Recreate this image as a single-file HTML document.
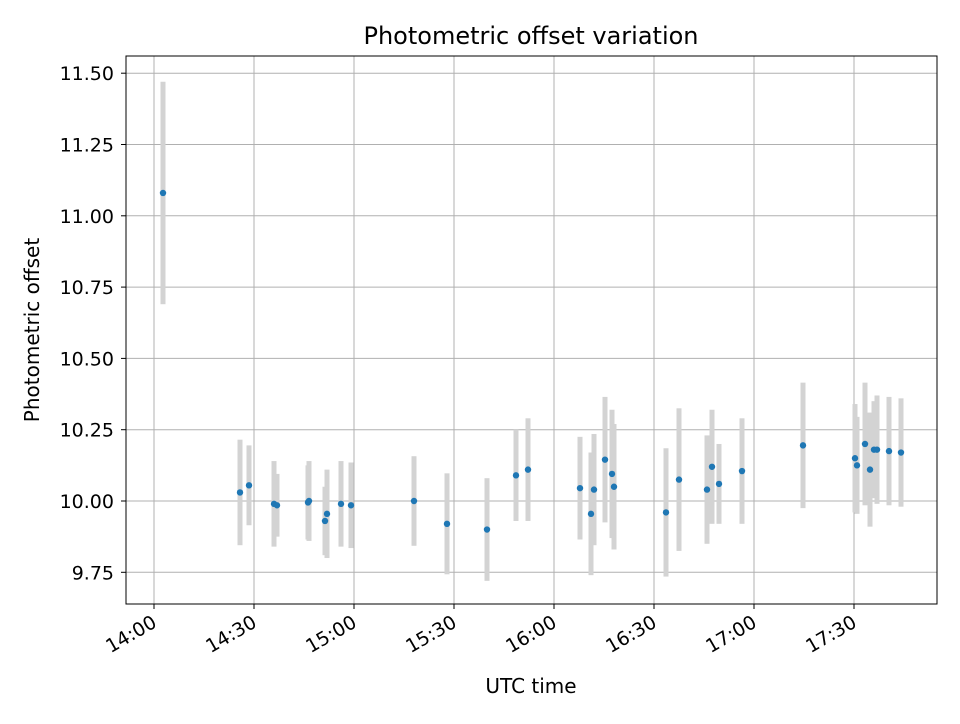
<!DOCTYPE html>
<html><head><meta charset="utf-8"><style>
body{margin:0;background:#fff;font-family:"DejaVu Sans","Liberation Sans",sans-serif;}
svg text{font-family:"DejaVu Sans","Liberation Sans",sans-serif;}
</style></head><body>
<svg id="chart" width="960" height="720" xmlns="http://www.w3.org/2000/svg">
<rect width="960" height="720" fill="#fff"/>
<g id="grid"></g><g id="bars"></g><g id="dots"></g><g id="ticks"></g>
<rect x="126" y="56" width="811" height="548" fill="none" stroke="#000" stroke-width="1"/>
<text x="531" y="44" text-anchor="middle" style="font-size:24px">Photometric offset variation</text>
<text x="531" y="693" text-anchor="middle" style="font-size:20px">UTC time</text>
<text transform="translate(39,330) rotate(-90)" text-anchor="middle" style="font-size:20px">Photometric offset</text>
</svg>
<script>
// minutes after 14:00 UTC
const times=[2.7,25.8,28.5,36,36.9,46.2,46.5,51.3,51.9,56.1,59.1,78,87.9,99.9,108.6,112.2,127.8,131.1,132,135.3,137.4,138,153.6,157.5,165.9,167.4,169.5,176.4,194.7,210.3,210.9,213.3,214.8,216,216.9,220.5,224.1];
const offsets=[11.08,10.03,10.055,9.99,9.985,9.995,10.0,9.93,9.955,9.99,9.985,10.0,9.92,9.9,10.09,10.11,10.045,9.955,10.04,10.145,10.095,10.05,9.96,10.075,10.04,10.12,10.06,10.105,10.195,10.15,10.125,10.2,10.11,10.18,10.18,10.175,10.17];
const errors=[0.39,0.185,0.14,0.15,0.11,0.13,0.14,0.12,0.155,0.15,0.15,0.157,0.177,0.18,0.16,0.18,0.18,0.215,0.195,0.22,0.225,0.22,0.225,0.25,0.19,0.2,0.14,0.185,0.22,0.19,0.17,0.215,0.2,0.17,0.19,0.19,0.19];
const xTickMin=[0,30,60,90,120,150,180,210];
const xTickLabels=["14:00","14:30","15:00","15:30","16:00","16:30","17:00","17:30"];
const yTicks=[9.75,10.0,10.25,10.5,10.75,11.0,11.25,11.5];
const yTickLabels=["9.75","10.00","10.25","10.50","10.75","11.00","11.25","11.50"];
const NS="http://www.w3.org/2000/svg";
const L=126,R=937,T=56,B=604;
const xs=m=>154+m*100/30;
const ys=v=>501-(v-10)*285.2;
function mk(tag,attrs,parent){const e=document.createElementNS(NS,tag);for(const k in attrs)e.setAttribute(k,attrs[k]);document.getElementById(parent).appendChild(e);return e;}
xTickMin.forEach((m,i)=>{const x=xs(m);
 const g=mk('line',{x1:x,x2:x,y1:T,y2:B,stroke:'#b0b0b0','stroke-width':1},'grid');
 
 
 const t=mk('line',{x1:x,x2:x,y1:B,y2:B+5,stroke:'#000'},'ticks');
 
 
 const tx=mk('text',{x:x+4,y:B+22,'text-anchor':'end',style:'font-size:19px',transform:`rotate(-30 ${x+4} ${B+22})`},'ticks');
 tx.textContent=xTickLabels[i];
 
 
});
yTicks.forEach((v,i)=>{const y=ys(v);
 const g=mk('line',{x1:L,x2:R,y1:y,y2:y,stroke:'#b0b0b0','stroke-width':1},'grid');
 
 
 const t=mk('line',{x1:L-5,x2:L,y1:y,y2:y,stroke:'#000'},'ticks');
 
 
 const tx=mk('text',{x:L-12,y:y+7,'text-anchor':'end',style:'font-size:19px'},'ticks');
 tx.textContent=yTickLabels[i];
 
 
});
times.forEach((m,i)=>{const x=xs(m);
 const b=mk('rect',{x:x-2.5,y:ys(offsets[i]+errors[i]),width:5,height:ys(offsets[i]-errors[i])-ys(offsets[i]+errors[i]),fill:'#d3d3d3'},'bars');
 
 
});
times.forEach((m,i)=>{
 const c=mk('circle',{cx:xs(m),cy:ys(offsets[i]),r:3.2,fill:'#1f77b4'},'dots');
 
 
});
</script>
</body></html>
